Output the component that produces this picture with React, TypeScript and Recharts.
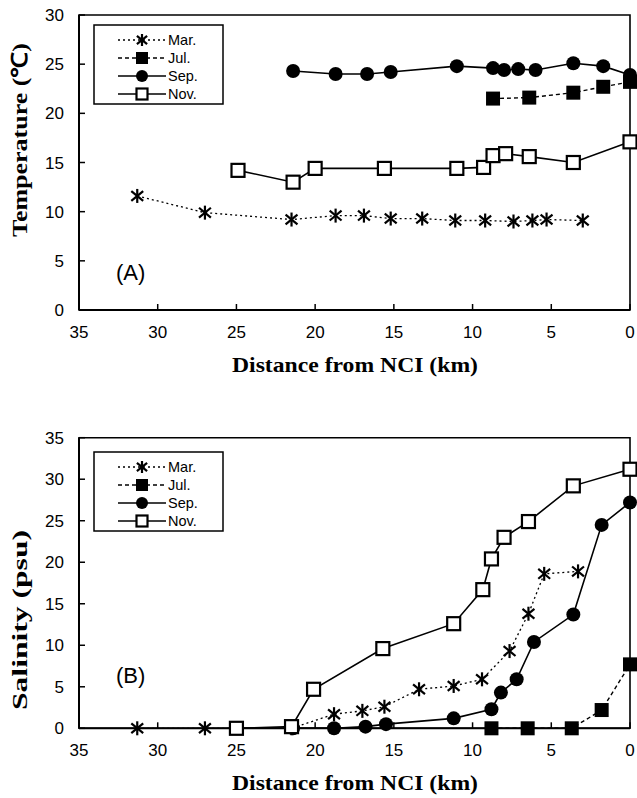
import React from 'react';
import { LineChart, Line, XAxis, YAxis, ReferenceArea } from 'recharts';

const xTicks = [0, 5, 10, 15, 20, 25, 30, 35];
const tempTicks = [0, 5, 10, 15, 20, 25, 30];
const salTicks = [0, 5, 10, 15, 20, 25, 30, 35];
const seriesNames = ['Mar.', 'Jul.', 'Sep.', 'Nov.'];

// (A) Temperature
const tMarKm = [31.3, 27.0, 21.5, 18.7, 16.9, 15.2, 13.2, 11.1, 9.2, 7.4, 6.2, 5.3, 3.0];
const tMarVal = [11.6, 9.9, 9.2, 9.6, 9.6, 9.3, 9.3, 9.1, 9.1, 9.0, 9.1, 9.2, 9.1];
const tJulKm = [8.7, 6.4, 3.6, 1.7, 0];
const tJulVal = [21.5, 21.6, 22.1, 22.7, 23.2];
const tSepKm = [21.4, 18.7, 16.7, 15.2, 11.0, 8.7, 8.0, 7.1, 6.0, 3.6, 1.7, 0];
const tSepVal = [24.3, 24.0, 24.0, 24.2, 24.8, 24.6, 24.4, 24.5, 24.4, 25.1, 24.8, 23.9];
const tNovKm = [24.9, 21.4, 20.0, 15.6, 11.0, 9.3, 8.7, 7.9, 6.4, 3.6, 0];
const tNovVal = [14.2, 13.0, 14.4, 14.4, 14.4, 14.5, 15.7, 15.9, 15.6, 15.0, 17.1];

// (B) Salinity
const sMarKm = [31.3, 27.0, 21.5, 18.8, 17.0, 15.6, 13.4, 11.2, 9.4, 7.65, 6.45, 5.45, 3.3];
const sMarVal = [0, 0, 0, 1.7, 2.1, 2.6, 4.7, 5.1, 5.9, 9.3, 13.8, 18.6, 18.9];
const sJulKm = [8.8, 6.5, 3.7, 1.8, 0];
const sJulVal = [0, 0, 0, 2.2, 7.7];
const sSepKm = [21.4, 18.8, 16.8, 15.5, 11.2, 8.8, 8.2, 7.2, 6.1, 3.6, 1.8, 0];
const sSepVal = [0, 0, 0.2, 0.5, 1.2, 2.3, 4.3, 5.9, 10.4, 13.7, 24.5, 27.2];
const sNovKm = [25.0, 21.5, 20.1, 15.7, 11.2, 9.35, 8.8, 8.0, 6.45, 3.6, 0];
const sNovVal = [0, 0.2, 4.7, 9.6, 12.6, 16.7, 20.4, 23.0, 24.9, 29.2, 31.2];

const toPts = (km: number[], v: number[]) => km.map((k, i) => ({ km: k, v: v[i] }));

const SANS = '"Liberation Sans", Arial, sans-serif';
const SERIF = '"Liberation Serif", "Times New Roman", serif';

function AsteriskShape({ cx, cy, r = 7 }: any) {
  return (
    <g stroke="#000" strokeWidth={2.2} fill="none">
      <line x1={cx} y1={cy - r} x2={cx} y2={cy + r} />
      <line x1={cx - r * 0.85} y1={cy - r * 0.7} x2={cx + r * 0.85} y2={cy + r * 0.7} />
      <line x1={cx - r * 0.85} y1={cy + r * 0.7} x2={cx + r * 0.85} y2={cy - r * 0.7} />
    </g>
  );
}
function FilledSquare({ cx, cy, r = 7 }: any) {
  return <rect x={cx - r} y={cy - r} width={2 * r} height={2 * r} fill="#000" />;
}
function FilledCircle({ cx, cy, r = 7 }: any) {
  return <circle cx={cx} cy={cy} r={r} fill="#000" />;
}
function OpenSquare({ cx, cy, r = 6.5 }: any) {
  return <rect x={cx - r} y={cy - r} width={2 * r} height={2 * r} fill="#fff" stroke="#000" strokeWidth={2.2} />;
}

const shapes = [AsteriskShape, FilledSquare, FilledCircle, OpenSquare];
const dashes = ['2 3', '4 3', undefined, undefined];
const widths = [1.3, 1.4, 1.6, 1.6];

const mkDot = (idx: number) => (props: any) => {
  const { cx, cy, index } = props;
  if (cx == null || cy == null) return <g key={`d${idx}-${index}`} />;
  const S = shapes[idx];
  return <g key={`d${idx}-${index}`}><S cx={cx} cy={cy} /></g>;
};

function Panel({ height, mTop, mBottom, yMax, yTicks, series }: any) {
  return (
    <LineChart width={637} height={height} margin={{ top: mTop, right: 7, bottom: mBottom, left: 19 }} style={{ overflow: 'visible' }}>
      <XAxis
        dataKey="km"
        type="number"
        domain={[0, 35]}
        reversed
        ticks={xTicks}
        interval={0}
        height={60}
        tickSize={-6}
        tickMargin={22}
        axisLine={{ stroke: '#000', strokeWidth: 2 }}
        tickLine={{ stroke: '#000', strokeWidth: 1.5 }}
        tick={{ fill: '#000', fontSize: 17, fontFamily: SANS }}
      />
      <YAxis
        type="number"
        domain={[0, yMax]}
        ticks={yTicks}
        interval={0}
        width={60}
        tickSize={-6}
        tickMargin={21}
        axisLine={{ stroke: '#000', strokeWidth: 2 }}
        tickLine={{ stroke: '#000', strokeWidth: 1.5 }}
        tick={{ fill: '#000', fontSize: 17, fontFamily: SANS }}
      />
      <ReferenceArea x1={0} x2={35} y1={0} y2={yMax} fill="none" stroke="#000" strokeWidth={1.6} ifOverflow="visible" />
      {series.map((s: any, i: number) => (
        <Line
          key={seriesNames[i]}
          data={s}
          dataKey="v"
          type="linear"
          stroke="#000"
          strokeWidth={widths[i]}
          strokeDasharray={dashes[i]}
          dot={mkDot(i)}
          activeDot={false}
          isAnimationActive={false}
          legendType="none"
        />
      ))}
    </LineChart>
  );
}

function LegendBox({ x, y }: { x: number; y: number }) {
  const rows = [15, 33, 51, 69];
  return (
    <g>
      <rect x={x} y={y} width={129} height={79} fill="#fff" stroke="#000" strokeWidth={1.5} />
      {seriesNames.map((n, i) => {
        const cy = y + rows[i];
        const S = shapes[i];
        return (
          <g key={n}>
            <line x1={x + 24} x2={x + 72} y1={cy} y2={cy} stroke="#000" strokeWidth={widths[i]} strokeDasharray={dashes[i]} />
            <S cx={x + 48} cy={cy} r={i === 3 ? 5.5 : 6} />
            <text x={x + 74} y={cy} dominantBaseline="central" fontFamily={SANS} fontSize={14.5} fill="#000">{n}</text>
          </g>
        );
      })}
    </g>
  );
}

export default function App() {
  const tempSeries = [toPts(tMarKm, tMarVal), toPts(tJulKm, tJulVal), toPts(tSepKm, tSepVal), toPts(tNovKm, tNovVal)];
  const salSeries = [toPts(sMarKm, sMarVal), toPts(sJulKm, sJulVal), toPts(sSepKm, sSepVal), toPts(sNovKm, sNovVal)];
  return (
    <div style={{ position: 'absolute', left: 0, top: 0, width: 637, height: 798, background: '#fff', overflow: 'hidden' }}>
      <div style={{ position: 'absolute', left: 0, top: 0 }}>
        <Panel height={420} mTop={15} mBottom={50} yMax={30} yTicks={tempTicks} series={tempSeries} />
      </div>
      <div style={{ position: 'absolute', left: 0, top: 420 }}>
        <Panel height={378} mTop={17.7} mBottom={9.7} yMax={35} yTicks={salTicks} series={salSeries} />
      </div>
      <svg width={637} height={798} style={{ position: 'absolute', left: 0, top: 0, pointerEvents: 'none' }}>
        <LegendBox x={94} y={25} />
        <LegendBox x={94} y={452} />
        <text x={116} y={280} fontFamily={SANS} fontSize={22} fill="#000">(A)</text>
        <text x={116} y={683} fontFamily={SANS} fontSize={22} fill="#000">(B)</text>
        <text x={355} y={372} textAnchor="middle" fontFamily={SERIF} fontWeight="bold" fontSize={22} textLength={246} lengthAdjust="spacingAndGlyphs" fill="#000">Distance from NCI (km)</text>
        <text x={355} y={790} textAnchor="middle" fontFamily={SERIF} fontWeight="bold" fontSize={22} textLength={246} lengthAdjust="spacingAndGlyphs" fill="#000">Distance from NCI (km)</text>
        <text transform="translate(27,140) rotate(-90)" textAnchor="middle" fontFamily={SERIF} fontWeight="bold" fontSize={22} textLength={194} lengthAdjust="spacingAndGlyphs" fill="#000">Temperature (℃)</text>
        <text transform="translate(27,620) rotate(-90)" textAnchor="middle" fontFamily={SERIF} fontWeight="bold" fontSize={22} textLength={180} lengthAdjust="spacingAndGlyphs" fill="#000">Salinity (psu)</text>
      </svg>
    </div>
  );
}
